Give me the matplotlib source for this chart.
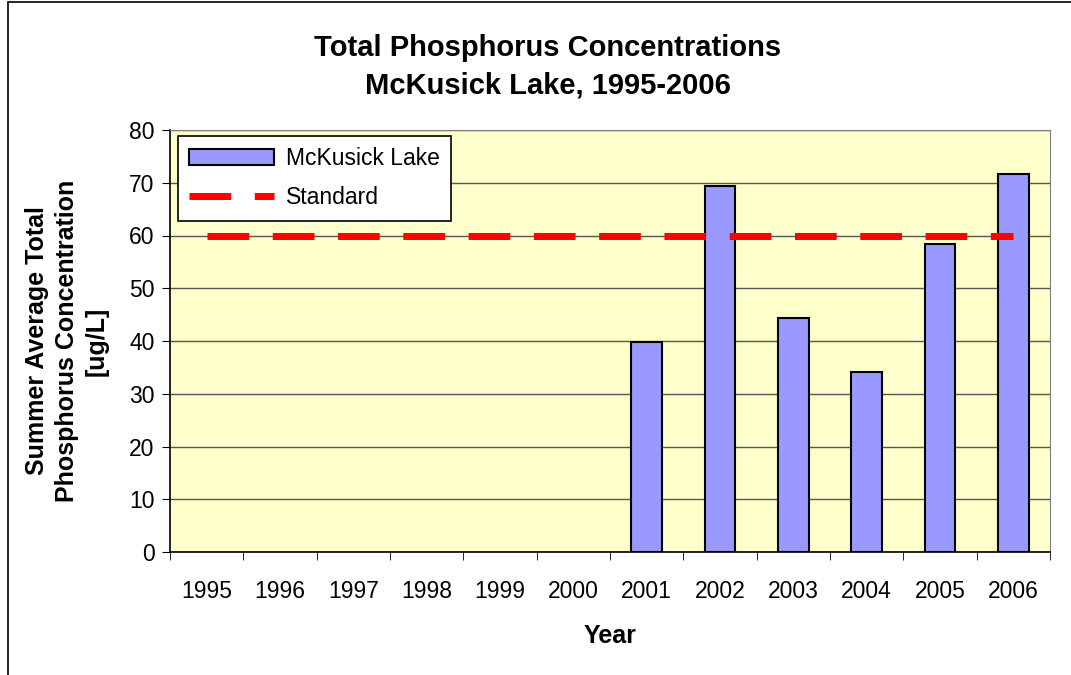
import matplotlib.pyplot as plt
from matplotlib.patches import Rectangle
import numpy as np

plt.rcParams['font.family'] = ['Liberation Sans', 'DejaVu Sans']

years = ['1995', '1996', '1997', '1998', '1999', '2000',
         '2001', '2002', '2003', '2004', '2005', '2006']
# no sampling data before 2001
tp_values = [np.nan, np.nan, np.nan, np.nan, np.nan, np.nan,
             39.8, 69.4, 44.4, 34.1, 58.4, 71.7]
standard = [60] * len(years)

fig = plt.figure(figsize=(10.71, 6.75), dpi=100)
ax = fig.add_axes([170 / 1071, 1 - 552 / 675, 880 / 1071, 422 / 675])

x = np.arange(len(years))
ax.set_facecolor('#FFFFCC')
ax.bar(x, tp_values, width=0.42, color='#9999FF', edgecolor='black',
       linewidth=1.5, label='McKusick Lake', zorder=3)
ax.plot(x, standard, color='#FF0000', linewidth=5, dashes=(6, 3.4),
        label='Standard', zorder=4)

ax.set_xlim(-0.5, len(years) - 0.5)
ax.set_ylim(0, 80)
ax.set_yticks(range(0, 81, 10))
ax.yaxis.grid(True, color='#555555', linewidth=1)
ax.set_axisbelow(True)

ax.set_xticks(x)
ax.set_xticklabels(years, fontsize=16.5)
ax.set_xticks(np.arange(-0.5, len(years)), minor=True)
ax.tick_params(axis='x', which='major', length=0, pad=20)
ax.tick_params(axis='x', which='minor', length=6, direction='out', color='black')
ax.tick_params(axis='y', labelsize=16.5, length=6, direction='out', pad=5)

for s in ['top', 'right']:
    ax.spines[s].set_color('#808080')
for s in ['left', 'bottom']:
    ax.spines[s].set_color('black')
    ax.spines[s].set_linewidth(1.2)

ax.set_xlabel('Year', fontsize=18, fontweight='bold', labelpad=15)
ax.set_ylabel('Summer Average Total\nPhosphorus Concentration\n[ug/L]',
              fontsize=18, fontweight='bold', labelpad=15, linespacing=1.3)
fig.text(548 / 1071, 1 - 67 / 675, 'Total Phosphorus Concentrations\nMcKusick Lake, 1995-2006',
         ha='center', va='center', fontsize=21, fontweight='bold', linespacing=1.45)

handles, labels = ax.get_legend_handles_labels()
order = [labels.index('McKusick Lake'), labels.index('Standard')]
leg = ax.legend([handles[i] for i in order], [labels[i] for i in order],
                loc='upper left', bbox_to_anchor=(0.009, 0.986), borderaxespad=0,
                fontsize=16.5, frameon=True, fancybox=False, edgecolor='black',
                framealpha=1, handlelength=3.7, handleheight=0.7, borderpad=0.5,
                labelspacing=0.7, handletextpad=0.5)
leg.get_frame().set_linewidth(1.2)

fig.patches.append(Rectangle((8 / 1071, -0.01), 1.1, 1 - 2 / 675 + 0.01,
                             transform=fig.transFigure, fill=False,
                             edgecolor='black', linewidth=1.2))

fig.savefig('out.png', dpi=100, facecolor='white')
